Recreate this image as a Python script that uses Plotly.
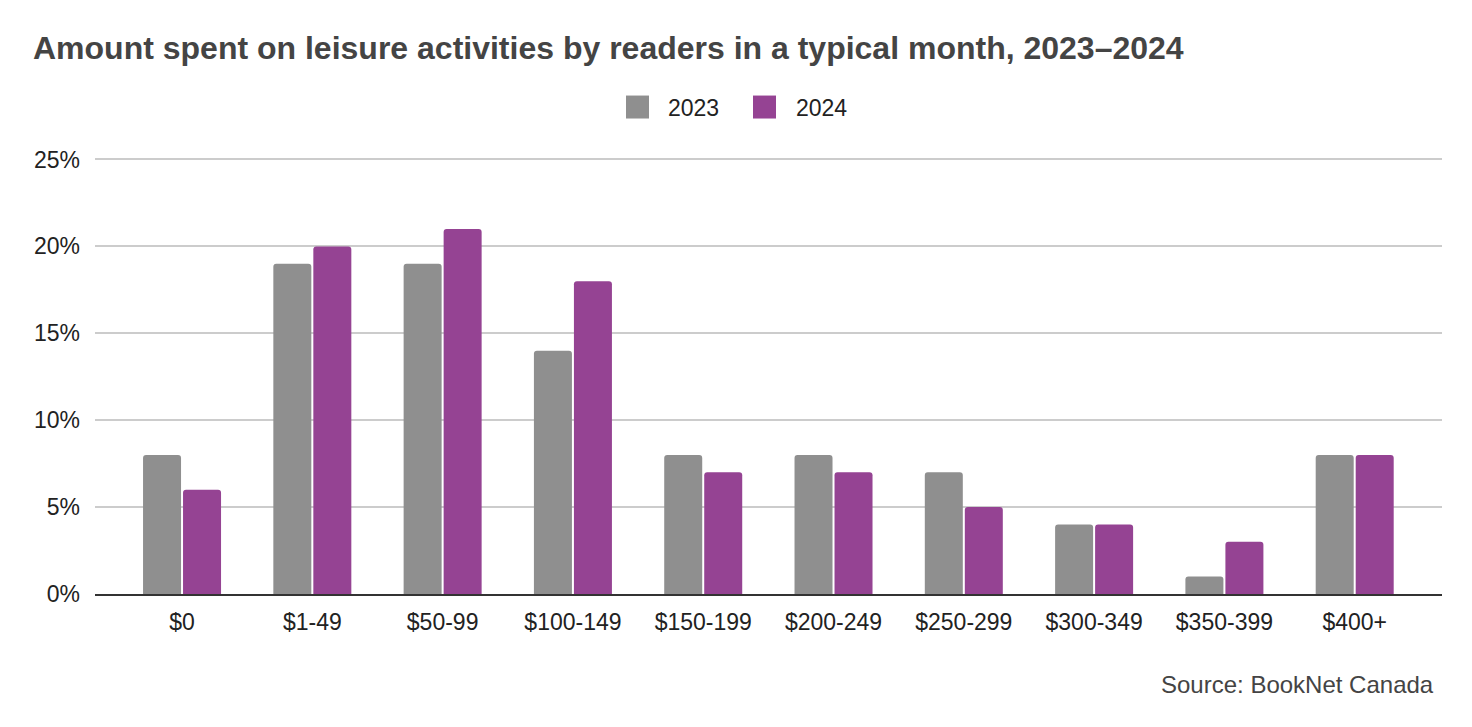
import plotly.graph_objects as go

categories = ["$0", "$1-49", "$50-99", "$100-149", "$150-199", "$200-249",
              "$250-299", "$300-349", "$350-399", "$400+"]
values_2023 = [8, 19, 19, 14, 8, 8, 7, 4, 1, 8]
values_2024 = [6, 20, 21, 18, 7, 7, 5, 4, 3, 8]
series_names = ["2023", "2024"]
series_colors = ["#8f8f8f", "#954393"]
y_ticks = [0, 5, 10, 15, 20, 25]
y_tick_labels = ["0%", "5%", "10%", "15%", "20%", "25%"]

FONT = "Liberation Sans, Arial, sans-serif"
W, H = 1472, 727
Y_TOP = 25.2
PX_PER_UNIT = 435 / 25
L, R, B = 95, 30, 133
T = (H - B) - PX_PER_UNIT * Y_TOP
PW, PH = W - L - R, H - T - B


def px_x(x):
    return (x - L) / PW


def px_y(y):
    return (H - B - y) / PH


fig = go.Figure()
for name, vals, col in zip(series_names, [values_2023, values_2024], series_colors):
    fig.add_trace(go.Bar(x=categories, y=vals, name=name,
                         marker=dict(color=col, cornerradius=3, line=dict(width=0))))

fig.update_layout(
    width=W, height=H,
    paper_bgcolor="white", plot_bgcolor="white",
    margin=dict(l=L, r=R, t=T, b=B),
    barmode="group", bargap=0.386, bargroupgap=0.05,
    font=dict(family=FONT, size=23, color="#222"),
    title=dict(text="<b>Amount spent on leisure activities by readers in a typical month, 2023–2024</b>",
               x=33 / W, xanchor="left", xref="container", y=1 - 48 / H, yanchor="middle",
               yref="container", font=dict(family=FONT, size=32, color="#444")),
    showlegend=False,
)
fig.update_xaxes(type="category", range=[-0.668, 9.67], showgrid=False,
                 showline=True, linecolor="#333", linewidth=2,
                 ticks="", ticklabelstandoff=6, tickfont=dict(size=23, color="#222"))
fig.update_yaxes(range=[0, Y_TOP], tickvals=y_ticks, ticktext=y_tick_labels,
                 showgrid=True, gridcolor="#cccccc", gridwidth=1.5, zeroline=False,
                 ticks="", ticklabelstandoff=14, tickfont=dict(size=23, color="#222"))

# custom legend (swatches + labels)
legend_boxes = [(626, 649), (753, 776)]
legend_text_x = [666, 794]
for (x0, x1), tx, name, col in zip(legend_boxes, legend_text_x, series_names, series_colors):
    fig.add_shape(type="rect", xref="paper", yref="paper",
                  x0=px_x(x0), x1=px_x(x1), y0=px_y(118), y1=px_y(95),
                  fillcolor=col, line=dict(width=0))
    fig.add_annotation(text=name, xref="paper", yref="paper", x=px_x(tx), xanchor="left",
                       y=px_y(107), yanchor="middle", showarrow=False,
                       font=dict(family=FONT, size=23, color="#222"))

fig.add_annotation(text="Source: BookNet Canada", xref="paper", yref="paper",
                   x=px_x(1436), xanchor="right",
                   y=px_y(685), yanchor="middle", showarrow=False,
                   font=dict(family=FONT, size=24, color="#444"))

fig.write_html("out.html", config={"displayModeBar": False},
               post_script="document.body.style.margin='0';document.body.style.overflow='hidden';")
